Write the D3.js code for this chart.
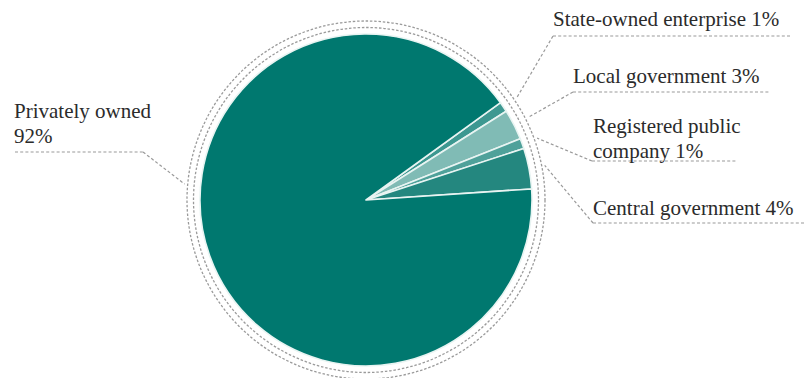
<!DOCTYPE html>
<html>
<head>
<meta charset="utf-8">
<script src="https://cdn.jsdelivr.net/npm/d3@7"></script>
<style>
  html, body { margin: 0; padding: 0; background: #fff; }
  svg { display: block; }
</style>
</head>
<body>
<svg id="chart" width="809" height="378"></svg>
<script>
// Ownership shares, listed clockwise from the top of the small wedges
const categories = ["State-owned enterprise", "Local government", "Registered public company", "Central government", "Privately owned"];
const shares = [1, 3, 1, 4, 92];
const colors = ["#3d9891", "#80bbb5", "#4fa19a", "#24877f", "#00786f"];
const labelLines = [
  ["State-owned enterprise 1%"],
  ["Local government 3%"],
  ["Registered public", "company 1%"],
  ["Central government 4%"],
  ["Privately owned", "92%"]
];

const svg = d3.select("#chart");
const cx = 366, cy = 200, r = 166;
const g = svg.append("g").attr("transform", `translate(${cx},${cy})`);

const startDeg = 54.1;
const pie = d3.pie().sort(null).value(d => d)
  .startAngle(startDeg * Math.PI / 180)
  .endAngle(startDeg * Math.PI / 180 + 2 * Math.PI);
const arcs = pie(shares);
const arc = d3.arc().innerRadius(0).outerRadius(r);

// Double dashed rings around the pie
[r + 6.5, r + 13].forEach(rr => {
  g.append("circle").attr("r", rr)
    .attr("fill", "none").attr("stroke", "#9a9a9a")
    .attr("stroke-width", 1.3).attr("stroke-dasharray", "2.5,1.8");
});

g.selectAll("path.slice").data(arcs).join("path")
  .attr("class", "slice")
  .attr("d", arc)
  .attr("fill", (d, i) => colors[i])
  .attr("stroke", "#e8f4f2")
  .attr("stroke-width", 1.6)
  .attr("stroke-linejoin", "round");

// Label layout: text position and underline extent
const labels = [
  { x: 553, y: 26, ux0: 553, ux1: 790, uy: 36, side: "right" },
  { x: 573, y: 83, ux0: 573, ux1: 770, uy: 92, side: "right" },
  { x: 593, y: 133, ux0: 592, ux1: 737, uy: 161, side: "right" },
  { x: 593, y: 215, ux0: 593, ux1: 806, uy: 223, side: "right" },
  { x: 14, y: 118, ux0: 15, ux1: 143, uy: 152, side: "left" }
];
const lineGap = 25;
const serif = "'Liberation Serif', 'DejaVu Serif', 'Times New Roman', serif";

arcs.forEach((a, i) => {
  const L = labels[i];
  let ang = (a.startAngle + a.endAngle) / 2;
  // the large slice's leader meets the ring on its left side
  if (i === 4) ang = 275 * Math.PI / 180;
  const px = cx + Math.sin(ang) * (r + 16);
  const py = cy - Math.cos(ang) * (r + 16);
  const ax = L.side === "right" ? L.ux0 : L.ux1;
  const dash = "3,2.2";
  svg.append("line")
    .attr("x1", L.ux0).attr("x2", L.ux1).attr("y1", L.uy).attr("y2", L.uy)
    .attr("stroke", "#9a9a9a").attr("stroke-width", 1.2).attr("stroke-dasharray", dash);
  svg.append("line")
    .attr("x1", ax).attr("y1", L.uy).attr("x2", px).attr("y2", py)
    .attr("stroke", "#9a9a9a").attr("stroke-width", 1.2).attr("stroke-dasharray", dash);
  const t = svg.append("text").attr("x", L.x).attr("y", L.y)
    .attr("font-family", serif).attr("font-size", 21).attr("fill", "#2b2b2b");
  labelLines[i].forEach((s, k) => {
    t.append("tspan").attr("x", L.x).attr("y", L.y + k * lineGap).text(s);
  });
});
</script>
</body>
</html>
